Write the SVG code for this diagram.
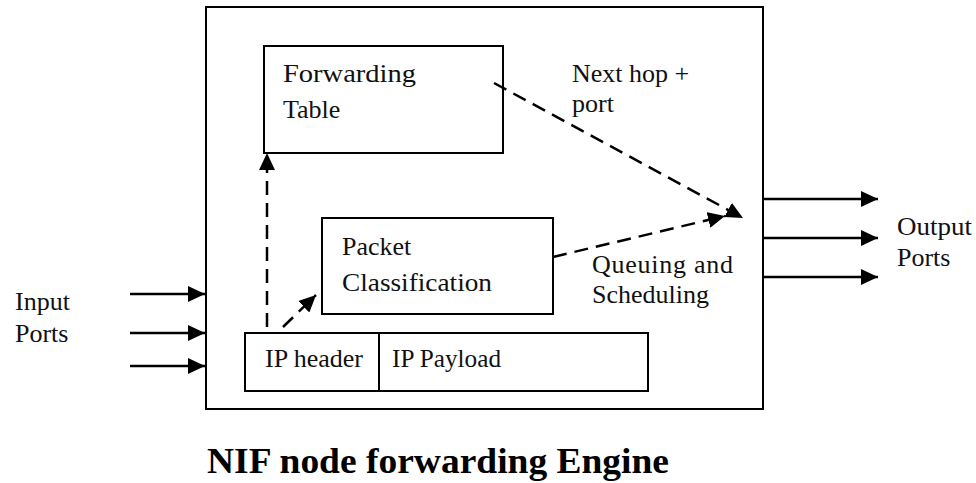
<svg xmlns="http://www.w3.org/2000/svg" width="976" height="483" viewBox="0 0 976 483">
<style>
.box{fill:#fff;stroke:#000;stroke-width:2}
.t{font-family:'Liberation Serif','DejaVu Serif',serif;font-size:26px;font-weight:normal;fill:#111}
.title{font-family:'Liberation Serif','DejaVu Serif',serif;font-size:36px;font-weight:bold;fill:#000}
.solid{stroke:#000;stroke-width:2.5;fill:none}
.dash{stroke:#000;stroke-width:2.5;fill:none;stroke-dasharray:14 8}
</style>
<defs>
<marker id="ah" markerUnits="userSpaceOnUse" markerWidth="18" markerHeight="16" viewBox="0 0 18 16" refX="17" refY="8" orient="auto">
<path d="M0,0 L17,8 L0,16 Z" fill="#000"/>
</marker>
</defs>
<rect width="976" height="483" fill="#fff"/>
<g id="engine">
<rect class="box" x="206" y="7" width="557" height="402"/>
</g>
<g id="forwarding-table">
<rect class="box" x="264" y="46" width="239" height="107"/>
<text class="t" x="283" y="82" textLength="133" lengthAdjust="spacingAndGlyphs">Forwarding</text>
<text class="t" x="283" y="118">Table</text>
</g>
<g id="packet-classification">
<rect class="box" x="322" y="218" width="231" height="96"/>
<text class="t" x="342" y="255">Packet</text>
<text class="t" x="342" y="291" textLength="150" lengthAdjust="spacingAndGlyphs">Classification</text>
</g>
<g id="ip-packet">
<rect class="box" x="245" y="333" width="403" height="58"/>
<line x1="379" y1="333" x2="379" y2="391" stroke="#000" stroke-width="2"/>
<text class="t" x="265" y="367">IP header</text>
<text class="t" x="392" y="367" textLength="109" lengthAdjust="spacingAndGlyphs">IP Payload</text>
</g>
<g id="labels">
<text class="t" x="572" y="82">Next hop +</text>
<text class="t" x="572" y="112">port</text>
<text class="t" x="592" y="273" textLength="141" lengthAdjust="spacing">Queuing  and</text>
<text class="t" x="592" y="303">Scheduling</text>
<text class="t" x="15" y="310">Input</text>
<text class="t" x="15" y="342">Ports</text>
<text class="t" x="897" y="235" textLength="75" lengthAdjust="spacingAndGlyphs">Output</text>
<text class="t" x="897" y="266">Ports</text>
<text class="title" x="207" y="473" textLength="462" lengthAdjust="spacingAndGlyphs">NIF node forwarding Engine</text>
</g>
<g id="connectors">
<line class="dash" x1="267" y1="327" x2="267" y2="153" marker-end="url(#ah)"/>
<line class="dash" x1="283" y1="327" x2="316" y2="295" marker-end="url(#ah)"/>
<line class="dash" x1="494" y1="83" x2="743" y2="218" marker-end="url(#ah)"/>
<line class="dash" x1="553" y1="257" x2="725" y2="216" marker-end="url(#ah)"/>
<line class="solid" x1="130" y1="294" x2="205" y2="294" marker-end="url(#ah)"/>
<line class="solid" x1="130" y1="333" x2="205" y2="333" marker-end="url(#ah)"/>
<line class="solid" x1="130" y1="366" x2="205" y2="366" marker-end="url(#ah)"/>
<line class="solid" x1="763" y1="199" x2="878" y2="199" marker-end="url(#ah)"/>
<line class="solid" x1="763" y1="238" x2="878" y2="238" marker-end="url(#ah)"/>
<line class="solid" x1="763" y1="277" x2="878" y2="277" marker-end="url(#ah)"/>
</g>
</svg>
